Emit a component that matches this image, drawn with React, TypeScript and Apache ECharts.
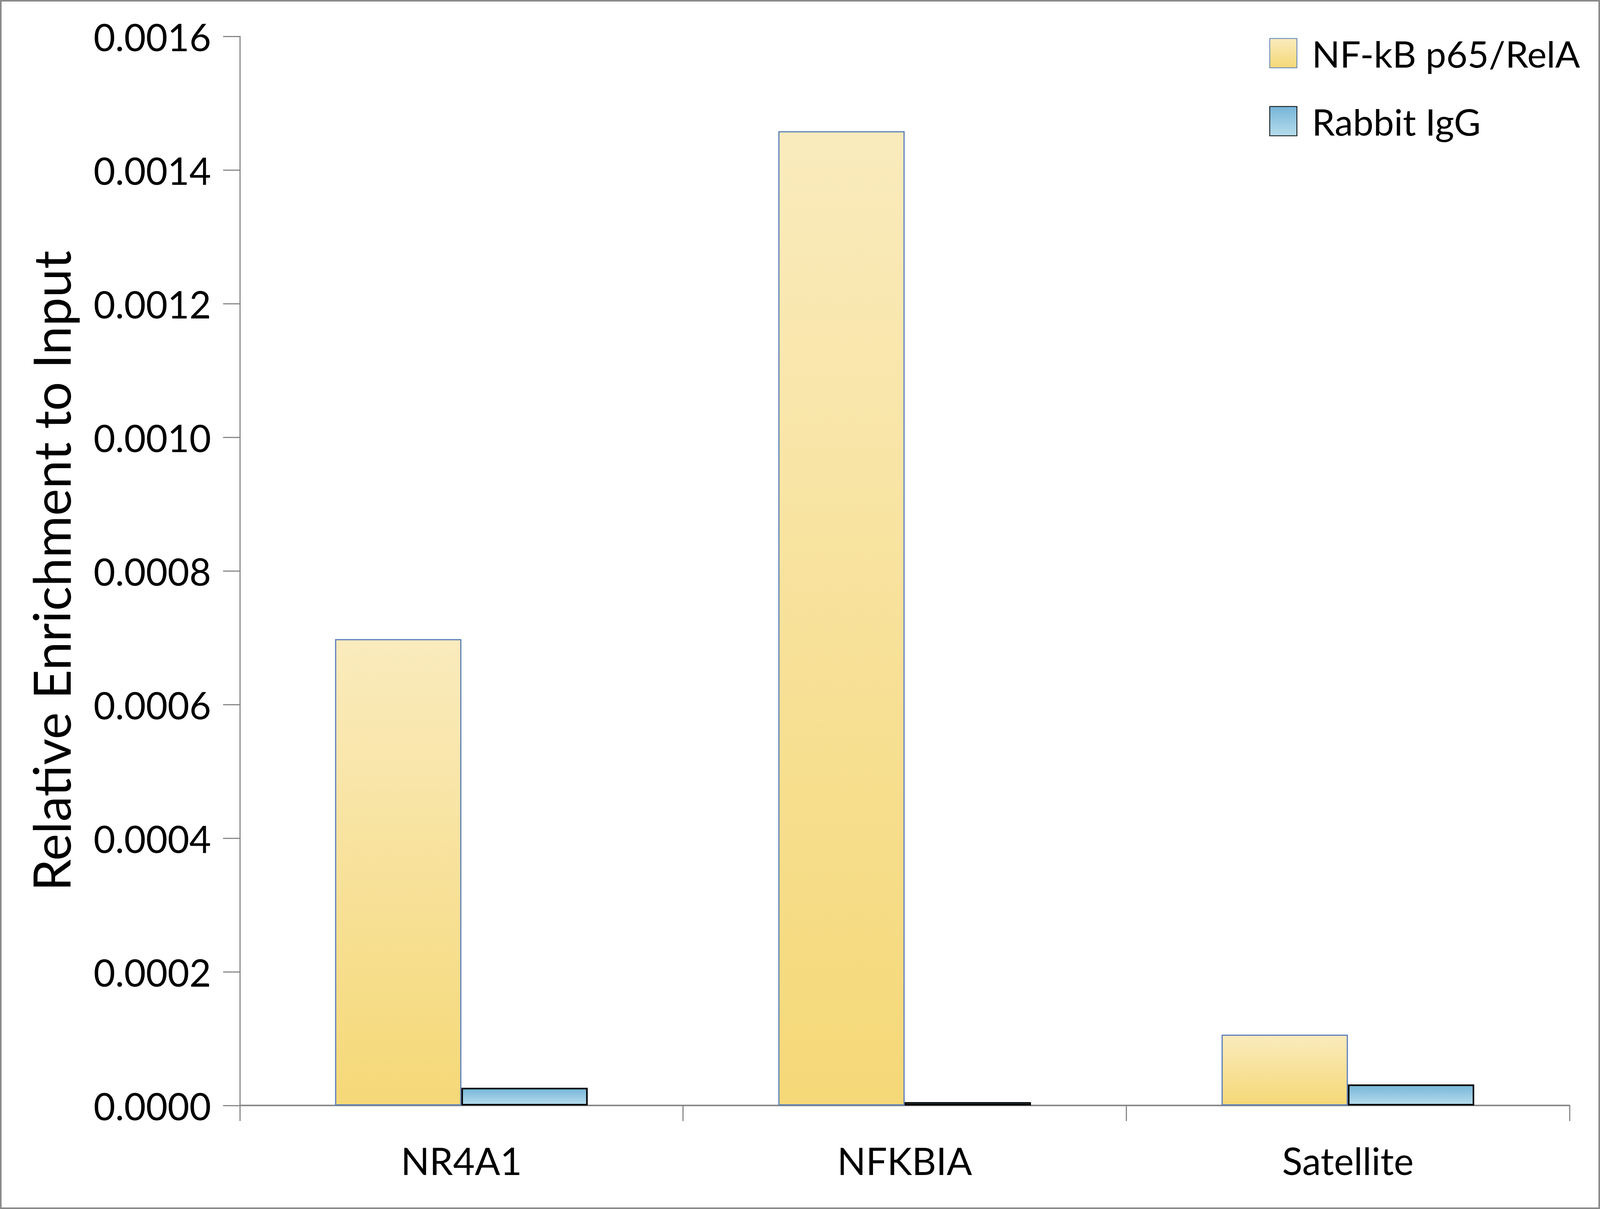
import React, { useEffect, useRef } from "react";
import * as echarts from "echarts";

const categories = ["NR4A1", "NFKBIA", "Satellite"];
const seriesNames = ["NF-kB p65/RelA", "Rabbit IgG"];
const p65Values = [0.000698, 0.001458, 0.000106];
const iggValues = [0.0000265, 0.000005, 0.0000315];
const yMin = 0;
const yMax = 0.0016;
const yInterval = 0.0002;

const FONT = "Lato";
const REF_W = 4411;
const REF_H = 3094;

export default function App() {
  const ref = useRef<HTMLDivElement>(null);
  useEffect(() => {
    if (!ref.current) return;
    const W = window.innerWidth;
    const H = window.innerHeight;
    const sx = W / REF_W;
    const sy = H / REF_H;
    const chart = echarts.init(ref.current, undefined, { renderer: "svg", width: W, height: H });
    const yellow = new echarts.graphic.LinearGradient(0, 0, 0, 1, [
      { offset: 0, color: "#FAEBBD" },
      { offset: 1, color: "#F5D877" },
    ]);
    const blue = new echarts.graphic.LinearGradient(0, 0, 0, 1, [
      { offset: 0, color: "#76B5D8" },
      { offset: 1, color: "#B6DCEC" },
    ]);
    const fs = 96 * sy;
    chart.setOption({
      animation: false,
      backgroundColor: "#ffffff",
      textStyle: { fontFamily: FONT },
      grid: { left: 661 * sx, right: 84 * sx, top: 93 * sy, bottom: 265 * sy, containLabel: false },
      legend: {
        orient: "vertical",
        left: 3494 * sx,
        top: 84 * sy,
        itemWidth: 75 * sx,
        itemHeight: 75 * sy,
        itemGap: 80 * sy,
        icon: "rect",
        textStyle: {
          fontFamily: FONT,
          fontSize: 94 * sy,
          lineHeight: 75 * sy,
          color: "#000",
          padding: [0, 0, 0, 36 * sx],
        },
        data: seriesNames,
      },
      graphic: [
        {
          type: "rect",
          shape: { x: 2, y: 2, width: W - 4, height: H - 4 },
          style: { fill: "none", stroke: "#8a8a8a", lineWidth: 4 },
          silent: true,
        },
      ],
      xAxis: {
        type: "category",
        data: categories,
        axisLine: { lineStyle: { color: "#898989", width: 4 } },
        axisTick: { show: true, length: 40 * sy, lineStyle: { color: "#898989", width: 3 } },
        axisLabel: {
          fontFamily: FONT,
          fontSize: fs,
          color: "#000",
          margin: 92 * sy,
          lineHeight: fs,
        },
      },
      yAxis: {
        type: "value",
        min: yMin,
        max: yMax,
        interval: yInterval,
        name: "Relative Enrichment to Input",
        nameLocation: "middle",
        nameRotate: 90,
        nameGap: 450 * sx,
        nameTextStyle: { fontFamily: FONT, fontSize: 131 * sy, color: "#000" },
        axisLine: { show: true, lineStyle: { color: "#898989", width: 3 } },
        axisTick: { show: true, length: 46 * sx, lineStyle: { color: "#898989", width: 3 } },
        splitLine: { show: false },
        axisLabel: {
          fontFamily: FONT,
          fontSize: fs,
          color: "#000",
          margin: 79 * sx,
          formatter: (v: number) => v.toFixed(4),
        },
      },
      series: [
        {
          name: seriesNames[0],
          type: "bar",
          data: p65Values,
          barGap: "0%",
          barCategoryGap: "43%",
          itemStyle: { color: yellow, borderColor: "#5B7FB8", borderWidth: 3 },
        },
        {
          name: seriesNames[1],
          type: "bar",
          data: iggValues,
          barGap: "0%",
          barCategoryGap: "43%",
          itemStyle: { color: blue, borderColor: "#000000", borderWidth: 4 },
        },
      ],
    });
    return () => chart.dispose();
  }, []);
  return (
    <div
      ref={ref}
      style={{ position: "fixed", left: 0, top: 0, width: "100vw", height: "100vh" }}
    />
  );
}
